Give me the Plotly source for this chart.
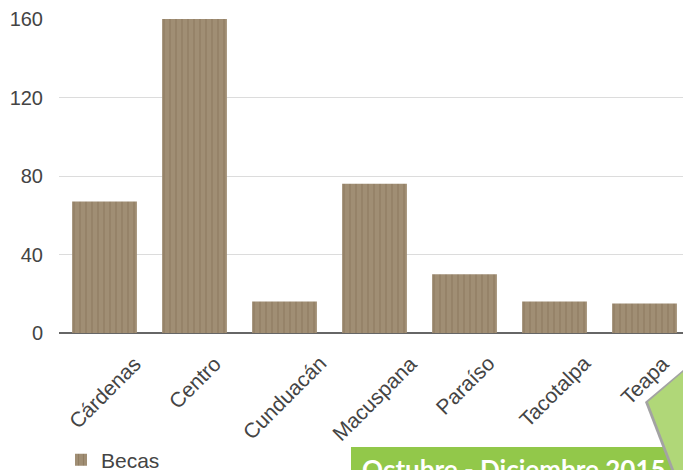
import plotly.graph_objects as go

categories = ["Cárdenas", "Centro", "Cunduacán", "Macuspana", "Paraíso", "Tacotalpa", "Teapa"]
becas = [67, 160, 16, 76, 30, 16, 15]
series_name = "Becas"
y_ticks = [0, 40, 80, 120, 160]
period_label = "Octubre - Diciembre 2015"

W, H = 683, 470
# plot area edges, in pixels
L, T, B = 59, 19, 333
R = W
PW, PH = R - L, B - T
BAND = 90.0          # px per category
FIRST_C = 104.5      # px of first category centre

def px2x(px):  # px -> paper x
    return (px - L) / PW

def py2y(py):  # px -> paper y
    return (B - py) / PH

fig = go.Figure()
fig.add_trace(go.Bar(
    x=categories, y=becas, name=series_name, width=0.72,
    marker=dict(
        color="#9d8a6f",
        line=dict(width=0),
        pattern=dict(shape="|", size=6, solidity=0.2,
                     fgcolor="#8f7c61", bgcolor="#a08e74", fillmode="replace"),
    ),
    showlegend=True,
))

shapes = []
shapes.append(dict(type="rect", xref="paper", yref="paper",
                   x0=px2x(351), x1=px2x(676), y0=py2y(495), y1=py2y(447),
                   fillcolor="#92c84a", line=dict(width=0), layer="above"))
shapes.append(dict(type="path", xref="paper", yref="paper",
                   path=f"M {px2x(690)},{py2y(364)} L {px2x(645)},{py2y(402)} L {px2x(675)},{py2y(480)} L {px2x(690)},{py2y(480)} Z",
                   fillcolor="#a3a3a3", line=dict(width=0), layer="above"))
shapes.append(dict(type="path", xref="paper", yref="paper",
                   path=f"M {px2x(690)},{py2y(366)} L {px2x(648)},{py2y(402)} L {px2x(678)},{py2y(480)} L {px2x(690)},{py2y(480)} Z",
                   fillcolor="#b0d778", line=dict(width=0), layer="above"))

# category labels: rotated, centred under each bar, top-aligned
annotations = [dict(
    text=c, x=c, xref="x", y=py2y(349), yref="paper",
    textangle=-45, xanchor="center", yanchor="top", showarrow=False,
    font=dict(size=21, color="#444444"),
) for c in categories]

annotations.append(dict(
    text=f"<b>{period_label}</b>", xref="paper", yref="paper",
    x=px2x(360), y=py2y(451), xanchor="left", yanchor="top",
    showarrow=False, font=dict(family="Lato, Open Sans, sans-serif", size=26, color="white"),
))

x_left = -(FIRST_C - L) / BAND
x_right = x_left + PW / BAND

fig.update_layout(
    width=W, height=H,
    margin=dict(l=L, r=W - R, t=T, b=H - B, autoexpand=False),
    paper_bgcolor="white", plot_bgcolor="white",
    font=dict(family="Liberation Sans, Arial, sans-serif", color="#444444"),
    xaxis=dict(
        range=[x_left, x_right], showticklabels=False,
        ticks="", showgrid=False, showline=False, zeroline=False, automargin=False,
    ),
    yaxis=dict(
        range=[0, 160], tickvals=y_ticks, tickfont=dict(size=20, color="#444444"),
        showgrid=True, gridcolor="#dcdcdc", gridwidth=1,
        zeroline=True, zerolinecolor="#666666", zerolinewidth=2,
        ticks="", showline=False, ticklabelstandoff=15, automargin=False,
    ),
    legend=dict(x=px2x(61), y=py2y(460), xanchor="left", yanchor="middle",
                font=dict(size=21, color="#444444"), bgcolor="rgba(0,0,0,0)"),
    shapes=shapes,
    annotations=annotations,
)

fig.write_html(
    "out.html",
    config={"displayModeBar": False},
    post_script="document.body.style.margin='0';document.body.style.overflow='hidden';",
)
